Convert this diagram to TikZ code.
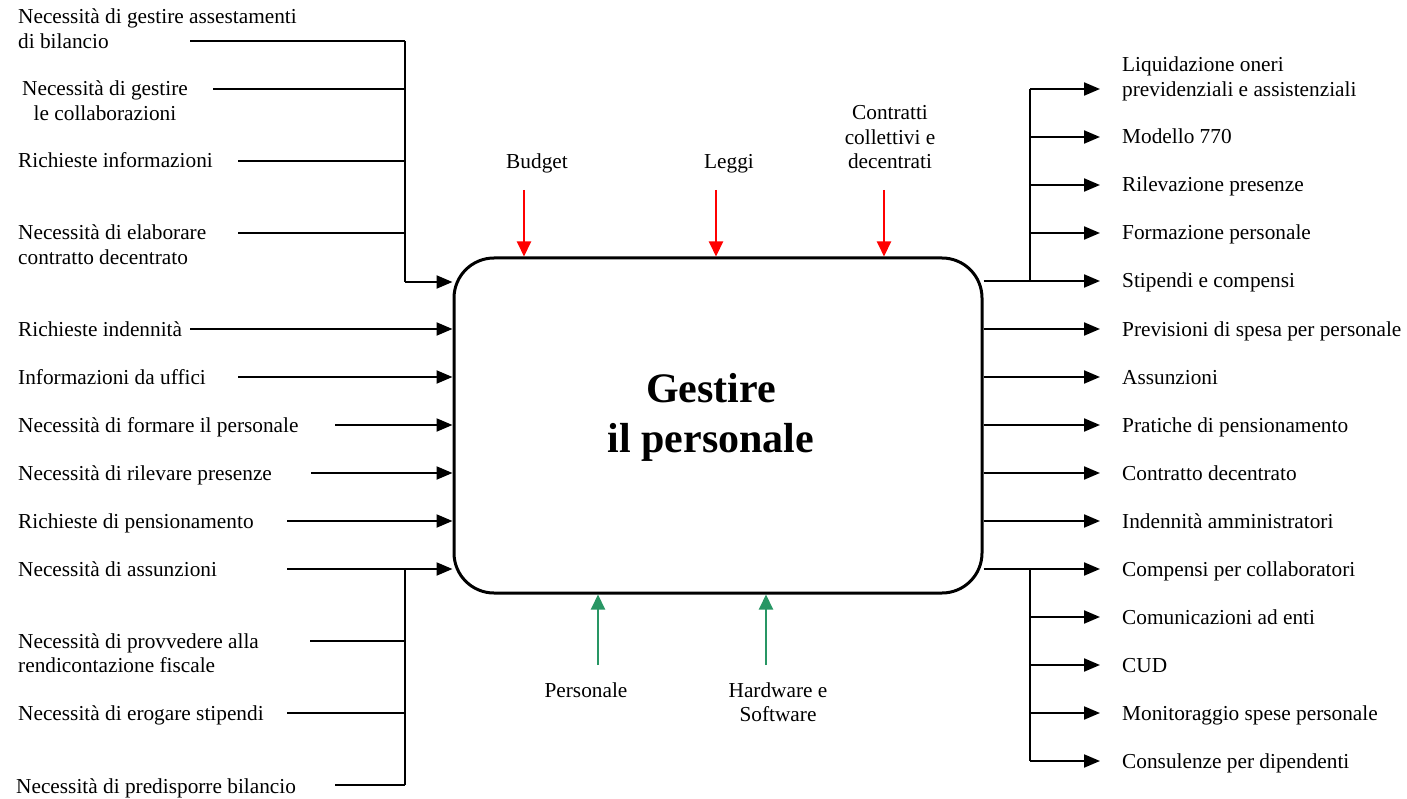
\documentclass[tikz,border=0pt]{standalone}
\usepackage{fontspec}
\setmainfont{Liberation Serif}
\usetikzlibrary{arrows.meta}
\definecolor{ctrlred}{RGB}{255,0,0}
\definecolor{mechgreen}{RGB}{40,150,100}
\tikzset{
  lbl/.style={anchor=base west, align=left, inner sep=0pt, font=\fontsize{21.3}{24.5}\selectfont},
  clbl/.style={anchor=base, align=center, inner sep=0pt, font=\fontsize{21.3}{24.5}\selectfont},
  wire/.style={line width=2pt, black},
  arr/.style={wire, -{Triangle[length=16pt,width=13pt]}},
  ctrl/.style={line width=2pt, ctrlred, -{Triangle[length=15pt,width=14pt]}},
  mech/.style={line width=2pt, mechgreen, -{Triangle[length=15pt,width=14pt]}},
  proc/.style={draw, line width=3pt, rounded corners=40pt, minimum width=528pt, minimum height=335pt, inner sep=0pt},
  title/.style={align=center, inner sep=0pt, font=\fontsize{42}{50}\selectfont\bfseries},
}
\begin{document}
\begin{tikzpicture}[x=1pt,y=-1pt]
\useasboundingbox (0,0) rectangle (1407,799);

% central box
\node[proc] (box) at (718,425.5) {};
\node[title] (t) at (711,417) {Gestire\\il personale};

% ---------- left inputs, upper group ----------
\node[lbl] (l1) at (18,48.5) {Necessità di gestire assestamenti\\di bilancio};
\node[clbl] (l2) at (105,120.5) {Necessità di gestire\\le collaborazioni};
\node[lbl] (l3) at (18,168) {Richieste informazioni};
\node[lbl] (l4) at (18,264.5) {Necessità di elaborare\\contratto decentrato};
\coordinate (s1) at (190,41);
\coordinate (s2) at (213,89);
\coordinate (s3) at (238,161);
\coordinate (s4) at (238,233);
\coordinate (jt) at (405,41);
\coordinate (jb) at (405,282);
\draw[wire] (s1) -- (jt);
\draw[wire] (s2) -- (s2 -| jt);
\draw[wire] (s3) -- (s3 -| jt);
\draw[wire] (s4) -- (s4 -| jt);
\draw[wire] (jt) -- (jb);
\draw[arr] (jb) -- (jb -| box.west);

% ---------- left inputs, direct ----------
\node[lbl] (l5) at (18,336) {Richieste indennità};
\node[lbl] (l6) at (18,384) {Informazioni da uffici};
\node[lbl] (l7) at (18,432) {Necessità di formare il personale};
\node[lbl] (l8) at (18,480) {Necessità di rilevare presenze};
\node[lbl] (l9) at (18,528) {Richieste di pensionamento};
\node[lbl] (l10) at (18,576) {Necessità di assunzioni};
\coordinate (s5) at (190,329);
\coordinate (s6) at (238,377);
\coordinate (s7) at (335,425);
\coordinate (s8) at (311,473);
\coordinate (s9) at (287,521);
\coordinate (s10) at (287,569);
\draw[arr] (s5) -- (s5 -| box.west);
\draw[arr] (s6) -- (s6 -| box.west);
\draw[arr] (s7) -- (s7 -| box.west);
\draw[arr] (s8) -- (s8 -| box.west);
\draw[arr] (s9) -- (s9 -| box.west);
\draw[arr] (s10) -- (s10 -| box.west);

% ---------- left inputs, lower group ----------
\node[lbl] (l11) at (18,672.5) {Necessità di provvedere alla\\rendicontazione fiscale};
\node[lbl] (l12) at (18,720) {Necessità di erogare stipendi};
\node[lbl] (l13) at (16,793) {Necessità di predisporre bilancio};
\coordinate (s11) at (310,641);
\coordinate (s12) at (287,713);
\coordinate (s13) at (335,785);
\coordinate (kt) at (405,569);
\coordinate (kb) at (405,785);
\draw[wire] (kt) -- (kb);
\draw[wire] (s11) -- (s11 -| kt);
\draw[wire] (s12) -- (s12 -| kt);
\draw[wire] (s13) -- (kb);

% ---------- controls (top) ----------
\node[clbl] (c1) at (537,169) {Budget};
\node[clbl] (c2) at (729,169) {Leggi};
\node[clbl] (c3) at (890,169) {Contratti\\collettivi e\\decentrati};
\coordinate (u1) at (524,190);
\coordinate (u2) at (716,190);
\coordinate (u3) at (884,190);
\draw[ctrl] (u1) -- (u1 |- box.north);
\draw[ctrl] (u2) -- (u2 |- box.north);
\draw[ctrl] (u3) -- (u3 |- box.north);

% ---------- mechanisms (bottom) ----------
\node[clbl] (m1) at (586,697) {Personale};
\node[clbl] (m2) at (778,721.5) {Hardware e\\Software};
\coordinate (d1) at (598,665);
\coordinate (d2) at (766,665);
\draw[mech] (d1) -- (d1 |- box.south);
\draw[mech] (d2) -- (d2 |- box.south);

% ---------- outputs, upper group ----------
\coordinate (ra) at (1030,281);
\coordinate (rt) at (1030,89);
\draw[wire] (ra -| box.east) -- (ra);
\draw[wire] (rt) -- (ra);
\foreach \yy/\nm in {89/o1,137/o2,185/o3,233/o4,281/o5}{
  \coordinate (e\nm) at (1100,\yy);
  \draw[arr] (1030,\yy) -- (e\nm);
}
\node[lbl] (o1) at (1122,96.5) {Liquidazione oneri\\previdenziali e assistenziali};
\node[lbl] (o2) at (1122,144) {Modello 770};
\node[lbl] (o3) at (1122,192) {Rilevazione presenze};
\node[lbl] (o4) at (1122,240) {Formazione personale};
\node[lbl] (o5) at (1122,288) {Stipendi e compensi};

% ---------- outputs, direct ----------
\node[lbl] (o6) at (1122,336) {Previsioni di spesa per personale};
\node[lbl] (o7) at (1122,384) {Assunzioni};
\node[lbl] (o8) at (1122,432) {Pratiche di pensionamento};
\node[lbl] (o9) at (1122,480) {Contratto decentrato};
\node[lbl] (o10) at (1122,528) {Indennità amministratori};
\foreach \yy/\nm in {329/o6,377/o7,425/o8,473/o9,521/o10}{
  \coordinate (e\nm) at (1100,\yy);
  \draw[arr] (e\nm -| box.east) -- (e\nm);
}

% ---------- outputs, lower group ----------
\coordinate (rb) at (1030,569);
\coordinate (rbb) at (1030,761);
\draw[wire] (rb -| box.east) -- (rb);
\draw[wire] (rb) -- (rbb);
\foreach \yy/\nm in {569/o11,617/o12,665/o13,713/o14,761/o15}{
  \coordinate (e\nm) at (1100,\yy);
  \draw[arr] (1030,\yy) -- (e\nm);
}
\node[lbl] (o11) at (1122,576) {Compensi per collaboratori};
\node[lbl] (o12) at (1122,624) {Comunicazioni ad enti};
\node[lbl] (o13) at (1122,672) {CUD};
\node[lbl] (o14) at (1122,720) {Monitoraggio spese personale};
\node[lbl] (o15) at (1122,768) {Consulenze per dipendenti};
\end{tikzpicture}
\end{document}
